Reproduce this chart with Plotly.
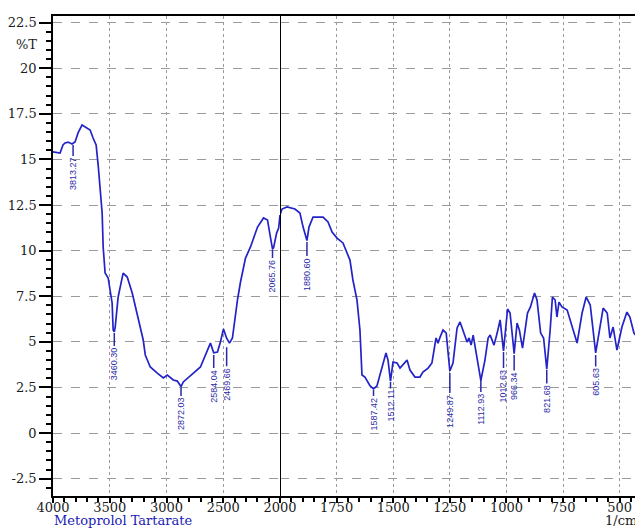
import plotly.graph_objects as go

# ---- spectrum data (wavenumber cm-1, %T) ----
wn_high = [4000, 3938, 3912, 3894, 3867, 3832, 3806, 3779, 3744, 3717, 3673, 3647, 3620, 3602,
           3585, 3567, 3558, 3541, 3514, 3479, 3470, 3460, 3452, 3426, 3382, 3346, 3302, 3258,
           3205, 3187, 3143, 3081, 3028, 2993, 2966, 2940, 2905, 2878, 2872, 2852, 2807, 2763,
           2701, 2657, 2613, 2584, 2551, 2525, 2498, 2470, 2445, 2419, 2401, 2375, 2348, 2304,
           2260, 2198, 2145, 2110, 2083, 2066, 2057, 2030, 2012, 2000]
t_high = [15.41, 15.35, 15.79, 15.90, 15.95, 15.84, 15.95, 16.45, 16.89, 16.78, 16.61, 16.17, 15.79, 14.69,
          13.16, 12.06, 10.20, 8.77, 8.50, 7.13, 5.65, 5.55, 5.81, 7.46, 8.77, 8.55, 7.68, 6.58,
          5.10, 4.28, 3.62, 3.29, 3.02, 3.18, 3.02, 2.91, 2.85, 2.63, 2.55, 2.80, 3.07, 3.29,
          3.62, 4.28, 4.93, 4.40, 4.44, 4.99, 5.70, 5.20, 4.93, 5.21, 6.20, 7.29, 8.28, 9.59,
          10.20, 11.29, 11.79, 11.68, 10.69, 10.10, 10.14, 10.96, 11.24, 11.95]

wn_low = [2000, 1991, 1969, 1934, 1912, 1898, 1881, 1872, 1854, 1810, 1788, 1770, 1748, 1722,
          1691, 1678, 1660, 1647, 1638, 1625, 1602, 1587, 1572, 1549, 1532, 1523, 1512, 1501,
          1483, 1470, 1439, 1426, 1404, 1382, 1369, 1346, 1329, 1311, 1302, 1293, 1280, 1266,
          1250, 1236, 1218, 1205, 1187, 1174, 1165, 1156, 1147, 1130, 1113, 1095, 1081, 1072,
          1055, 1041, 1028, 1013, 995, 984, 966, 953, 943, 929, 907, 894, 876, 865,
          849, 836, 822, 807, 797, 785, 777, 768, 755, 732, 710, 688, 666, 648,
          630, 617, 606, 587, 573, 555, 543, 529, 512, 490, 468, 455, 437, 420,
          406, 397]
t_low = [11.95, 12.28, 12.39, 12.28, 12.06, 11.29, 10.55, 11.29, 11.84, 11.84, 11.57, 11.02, 10.69, 10.42,
         9.48, 8.39, 7.29, 5.65, 3.18, 3.07, 2.58, 2.42, 2.58, 3.62, 4.39, 4.00, 2.85, 3.89,
         3.84, 3.56, 4.00, 3.45, 3.07, 3.07, 3.34, 3.56, 3.84, 5.21, 4.93, 5.26, 5.65, 5.48,
         3.40, 3.84, 5.76, 6.09, 5.48, 4.99, 5.21, 4.82, 5.37, 4.17, 2.88, 4.00, 5.21, 5.37,
         4.82, 5.48, 6.20, 4.50, 6.80, 6.58, 4.35, 6.03, 5.65, 4.66, 6.58, 6.91, 7.68, 7.29,
         5.48, 5.21, 3.50, 5.65, 7.46, 7.29, 6.36, 7.18, 6.91, 6.74, 5.81, 4.93, 6.58, 7.46,
         7.02, 5.65, 4.40, 5.81, 6.85, 6.58, 5.21, 5.81, 4.55, 5.81, 6.63, 6.36, 5.48, 5.21,
         5.48, 5.37]

# ---- peak labels ----
peak_wn = [3823, 3460, 2872, 2584, 2470, 2066, 1881, 1587, 1512, 1250, 1113, 1013, 966, 822, 606]
peak_text = ["3813.27", "3460.30", "2872.03", "2584.04", "2469.66", "2065.76", "1880.60", "1587.42",
             "1512.11", "1249.87", "1112.93", "1012.63", "966.34", "821.68", "605.63"]
peak_t = [15.79, 5.48, 2.47, 4.28, 4.71, 10.03, 10.47, 2.36, 2.80, 3.29, 2.91, 4.44, 4.28, 3.45, 4.28]
peak_offset = [29, 31, 26, 31, 37, 26, 32, 24, 24, 38, 29, 34, 31, 29, 27]

# ---- axis ticks ----
y_ticks = [-2.5, 0, 2.5, 5, 7.5, 10, 12.5, 15, 17.5, 20, 22.5]
y_ticktext = ["-2.5", "0", "2.5", "5", "7.5", "10", "12.5", "15", "17.5", "20", "22.5"]
x_ticks_high = [4000, 3500, 3000, 2500]
x_ticks_low = [2000, 1750, 1500, 1250, 1000, 750, 500]

LINE = "#2323c8"
LABEL = "#2a2aa8"
SERIF = "DejaVu Serif, Liberation Serif, serif"
TICKFONT = dict(family=SERIF, size=13, color="#1c1c1c")

fig = go.Figure()
fig.add_trace(go.Scatter(x=wn_high, y=t_high, mode="lines", xaxis="x", yaxis="y",
                         line=dict(color=LINE, width=1.7), showlegend=False, hoverinfo="skip"))
fig.add_trace(go.Scatter(x=wn_low, y=t_low, mode="lines", xaxis="x2", yaxis="y",
                         line=dict(color=LINE, width=1.7), showlegend=False, hoverinfo="skip"))

split = 227 / 590
common_x = dict(showline=True, linecolor="black", linewidth=1.5, mirror=True,
                ticks="outside", ticklen=5, tickcolor="black", tickwidth=1.5,
                ticklabelstandoff=-6,
                showgrid=True, gridcolor="#9a9a9a", griddash="dot", gridwidth=1,
                tickfont=TICKFONT, zeroline=False, anchor="y")

fig.update_layout(
    width=635, height=520,
    margin=dict(l=45, r=0, t=8, b=32),
    paper_bgcolor="white", plot_bgcolor="white",
    xaxis=dict(domain=[0, split], range=[4000, 2000], tickvals=x_ticks_high,
               minor=dict(dtick=100, ticks="outside", ticklen=4, tickcolor="black", showgrid=False),
               **common_x),
    xaxis2=dict(domain=[split, 1], range=[2000, 397], tickvals=x_ticks_low,
                minor=dict(dtick=50, ticks="outside", ticklen=4, tickcolor="black", showgrid=False),
                **common_x),
    yaxis=dict(range=[-3.45, 22.86], tickvals=y_ticks, ticktext=y_ticktext,
               showline=True, linecolor="black", linewidth=1.5,
               ticks="outside", ticklen=12, tickcolor="black", tickwidth=1.5,
               minor=dict(dtick=0.5, tick0=0, ticks="outside", ticklen=5, tickcolor="black", showgrid=False),
               showgrid=True, gridcolor="#9a9a9a", griddash="dash", gridwidth=1,
               tickfont=TICKFONT, zeroline=False),
)

# black separator at 2000 cm-1
fig.add_shape(type="line", xref="x2", yref="paper", x0=2000, x1=2000, y0=0, y1=1,
              line=dict(color="black", width=2))

for wn, txt, t, off in zip(peak_wn, peak_text, peak_t, peak_offset):
    xr = "x" if wn >= 2000 else "x2"
    fig.add_annotation(x=wn, y=t, xref=xr, yref="y", text=txt, textangle=-90,
                       showarrow=True, arrowhead=0, arrowwidth=1.5, arrowcolor=LABEL,
                       ax=0, ay=off, standoff=0,
                       font=dict(family="Liberation Sans Narrow, Arial Narrow, sans-serif", size=9, color=LABEL))

fig.add_annotation(xref="paper", yref="y", x=0, y=21.3, xshift=-14, xanchor="right",
                   text="%T", showarrow=False, font=TICKFONT)
fig.add_annotation(xref="paper", yref="paper", x=0, y=0, yshift=-24.5, xanchor="left", yanchor="middle",
                   text="Metoprolol Tartarate", showarrow=False, borderpad=0,
                   font=dict(family=SERIF, size=13, color="#1a1ab4"))
fig.add_annotation(xref="paper", yref="paper", x=1, y=0, xshift=-5, yshift=-24.5, xanchor="right", yanchor="middle",
                   text="1/cm", showarrow=False, borderpad=0, font=TICKFONT)

fig.write_html("out.html")
